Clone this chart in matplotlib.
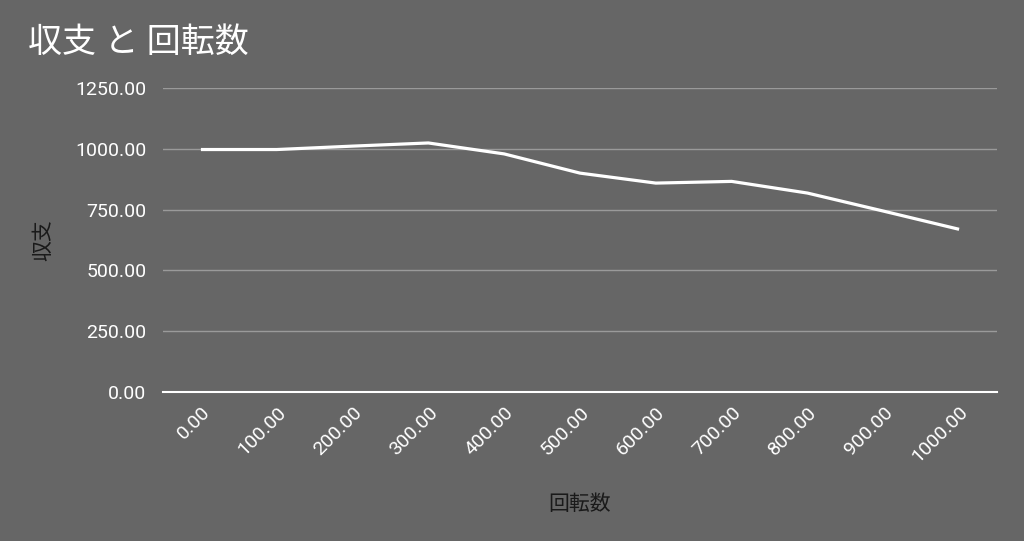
import matplotlib
matplotlib.use('Agg')
import matplotlib.pyplot as plt

# data
spins = [0, 100, 200, 300, 400, 500, 600, 700, 800, 900, 1000]
balance = [997, 997, 1011, 1024, 979, 900, 859, 866, 818, 744, 669]
y_ticks = [0, 250, 500, 750, 1000, 1250]

plt.rcParams['font.family'] = ['Roboto', 'Noto Sans CJK JP', 'DejaVu Sans']

bg = '#666666'
fig = plt.figure(figsize=(10.24, 5.41), dpi=100, facecolor=bg)
ax = fig.add_axes([163/1024, 1-392/541, (997-163)/1024, (392-88)/541])
ax.set_facecolor(bg)

ax.plot(spins, balance, color='white', linewidth=2.3, solid_capstyle='butt', zorder=3)

ax.set_xlim(-50, 1050)
ax.set_ylim(0, 1250)
ax.set_yticks(y_ticks)
ax.set_yticklabels(['%.2f' % v for v in y_ticks])
ax.set_xticks(spins)
ax.set_xticklabels(['%.2f' % v for v in spins], rotation=45, ha='right',
                   va='top', rotation_mode='anchor')

ax.grid(axis='y', color='#9a9a9a', linewidth=1)
ax.set_axisbelow(True)
for s in ['top', 'right', 'left']:
    ax.spines[s].set_visible(False)
ax.spines['bottom'].set_color('white')
ax.spines['bottom'].set_linewidth(1.5)
ax.spines['bottom'].set_zorder(4)

ax.tick_params(axis='both', length=0, colors='white', labelsize=14)
ax.tick_params(axis='y', pad=12)
ax.tick_params(axis='x', pad=8)

ax.set_xlabel('回転数', color='#1a1a1a', fontsize=15, labelpad=20)
ax.set_ylabel('収支', color='#1a1a1a', fontsize=15, labelpad=16)

fig.text(28/1024, 1-43/541, '収支 と 回転数', color='white', fontsize=24.5, va='center', ha='left')

plt.savefig('out.png', dpi=100, facecolor=bg)
